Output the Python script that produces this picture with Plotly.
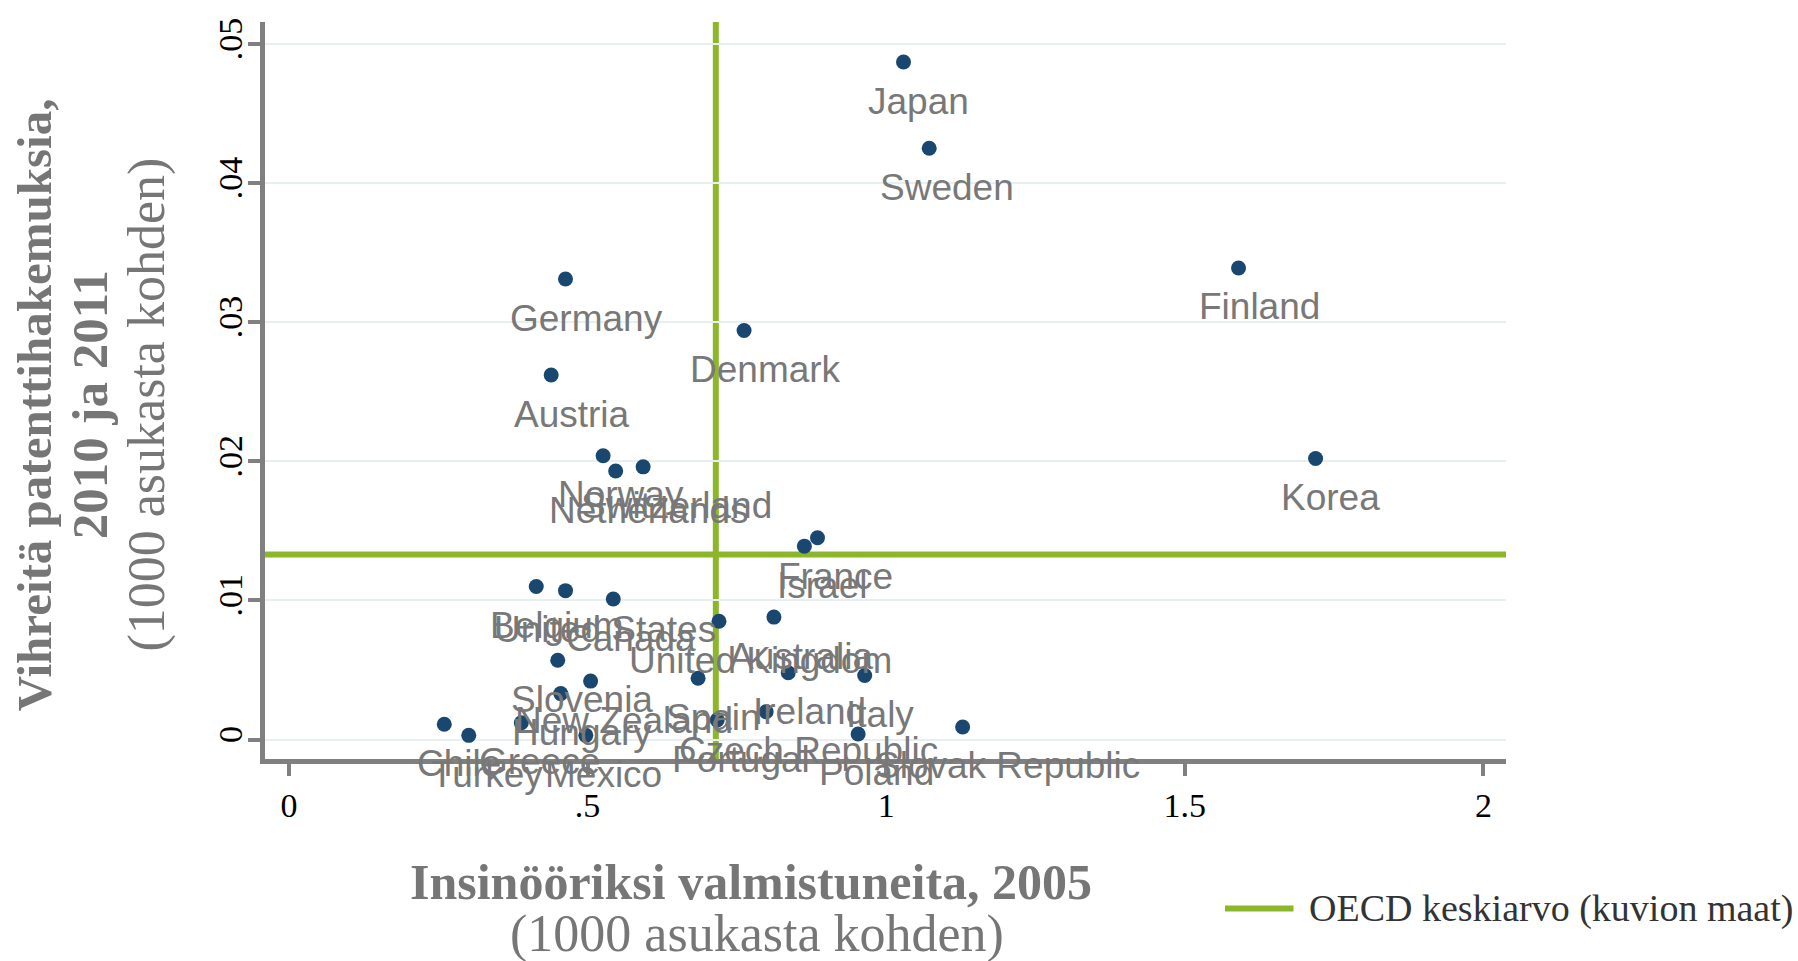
import plotly.graph_objects as go

# ---------------- data ----------------
countries = ["Japan", "Sweden", "Finland", "Korea", "Germany", "Denmark", "Austria",
             "Norway", "Netherlands", "Switzerland", "Israel", "France", "Belgium",
             "United States", "Canada", "United Kingdom", "Australia", "Slovenia",
             "New Zealand", "Spain", "Ireland", "Italy", "Hungary", "Czech Republic",
             "Portugal", "Greece", "Chile", "Turkey", "Mexico", "Poland", "Slovak Republic"]

engineers_2005 = [1.029, 1.072, 1.590, 1.719, 0.463, 0.762, 0.439,
                  0.526, 0.547, 0.593, 0.863, 0.885, 0.414,
                  0.463, 0.543, 0.720, 0.812, 0.450,
                  0.505, 0.685, 0.836, 0.964, 0.455, 0.799,
                  0.717, 0.389, 0.260, 0.301, 0.497, 0.953, 1.128]

green_patents = [0.0487, 0.0425, 0.0339, 0.0202, 0.0331, 0.0294, 0.0262,
                 0.0204, 0.0193, 0.0196, 0.0139, 0.0145, 0.0110,
                 0.0107, 0.0101, 0.0085, 0.0088, 0.0057,
                 0.0042, 0.0044, 0.0048, 0.0046, 0.0033, 0.0020,
                 0.0014, 0.0012, 0.0011, 0.0003, 0.0003, 0.0004, 0.0009]

oecd_mean_x = 0.7147
oecd_mean_y = 0.0133

x_tickvals = [0, 0.5, 1, 1.5, 2]
x_ticktext = ["0", ".5", "1", "1.5", "2"]
y_tickvals = [0, 0.01, 0.02, 0.03, 0.04, 0.05]
y_ticktext = ["0", ".01", ".02", ".03", ".04", ".05"]

y_title = ["Vihreitä patenttihakemuksia,", "2010 ja 2011", "(1000 asukasta kohden)"]
x_title = ["Insinööriksi valmistuneita, 2005", "(1000 asukasta kohden)"]
legend_label = "OECD keskiarvo (kuvion maat)"

# ---------------- styling ----------------
W, H = 1798, 961
L, R, T, B = 265, 1506, 22, 759.5
NAVY = "#1a476f"
GREEN = "#8db72b"
AXGRAY = "#808080"
LABGRAY = "#787878"
TITLEGRAY = "#767676"
SERIF = "Liberation Serif, Times New Roman, serif"
SANS = "Liberation Sans, Arial, sans-serif"


def px2paper(px, py):
    return (px - L) / (R - L), (B - py) / (B - T)


fig = go.Figure()

fig.add_trace(go.Scatter(
    x=engineers_2005, y=green_patents, mode="markers",
    marker=dict(color=NAVY, size=15, line=dict(width=0)),
    text=countries, hoverinfo="text", showlegend=False))

# OECD average lines
fig.add_shape(type="line", xref="x", yref="paper", x0=oecd_mean_x, x1=oecd_mean_x,
              y0=0, y1=1, line=dict(color=GREEN, width=6), layer="between")
fig.add_shape(type="line", xref="paper", yref="y", x0=0, x1=1,
              y0=oecd_mean_y, y1=oecd_mean_y, line=dict(color=GREEN, width=6), layer="between")

annotations = []
# country labels below the markers
for name, xv, yv in zip(countries, engineers_2005, green_patents):
    annotations.append(dict(
        x=xv, y=yv, xref="x", yref="y", text=name, showarrow=False,
        xanchor="center", yanchor="middle", xshift=3.0 * len(name), yshift=-39,
        font=dict(family=SANS, size=37, color=LABGRAY)))

# y-axis title (three rotated lines)
y_title_style = [(34.4, True, 49), (89.4, True, 51), (146.8, False, 52)]
for line, (cx, bold, size) in zip(y_title, y_title_style):
    xp, yp = px2paper(cx, 405)
    txt = f"<b>{line}</b>" if bold else line
    annotations.append(dict(
        x=xp, y=yp, xref="paper", yref="paper", text=txt, showarrow=False,
        textangle=-90, xanchor="center", yanchor="middle",
        font=dict(family=SERIF, size=size, color=TITLEGRAY)))

# x-axis title (two lines)
x_title_style = [(751, 883, True, 50), (757, 935, False, 52)]
for line, (cx, cy, bold, size) in zip(x_title, x_title_style):
    xp, yp = px2paper(cx, cy)
    txt = f"<b>{line}</b>" if bold else line
    annotations.append(dict(
        x=xp, y=yp, xref="paper", yref="paper", text=txt, showarrow=False,
        xanchor="center", yanchor="middle",
        font=dict(family=SERIF, size=size, color=TITLEGRAY)))

# legend (manual)
lx0, ly = px2paper(1225, 909)
lx1, _ = px2paper(1293.5, 909)
fig.add_shape(type="line", xref="paper", yref="paper", x0=lx0, x1=lx1, y0=ly, y1=ly,
              line=dict(color=GREEN, width=6))
tx, _ = px2paper(1307, 909)
annotations.append(dict(
    x=tx, y=ly, xref="paper", yref="paper", text=legend_label, showarrow=False,
    xanchor="left", yanchor="middle",
    font=dict(family=SERIF, size=38, color="#333333")))

x_lo = (L - 289) / 597.2
x_hi = (R - 289) / 597.2
y_lo = (740 - B) / 13920
y_hi = (740 - T) / 13920

fig.update_layout(
    width=W, height=H,
    margin=dict(l=L, r=W - R, t=T, b=H - B, pad=0),
    paper_bgcolor="white", plot_bgcolor="white",
    annotations=annotations,
    showlegend=False,
    xaxis=dict(range=[x_lo, x_hi], tickvals=x_tickvals, ticktext=x_ticktext,
               showgrid=False, zeroline=False, showline=True, linecolor=AXGRAY, linewidth=5,
               ticks="outside", ticklen=12, tickwidth=4, tickcolor=AXGRAY,
               tickfont=dict(family=SERIF, size=34, color="black")),
    yaxis=dict(range=[y_lo, y_hi], tickvals=y_tickvals, ticktext=y_ticktext,
               showgrid=True, gridcolor="#e7eff0", gridwidth=1.5,
               zeroline=False, showline=True, linecolor=AXGRAY, linewidth=5,
               ticks="outside", ticklen=12, tickwidth=4, tickcolor=AXGRAY, tickangle=-90,
               ticklabelstandoff=-8,
               tickfont=dict(family=SERIF, size=34, color="black")),
)

fig.write_html("out.html", config={"displayModeBar": False},
               post_script="document.body.style.margin='0';document.body.style.overflow='hidden';")
